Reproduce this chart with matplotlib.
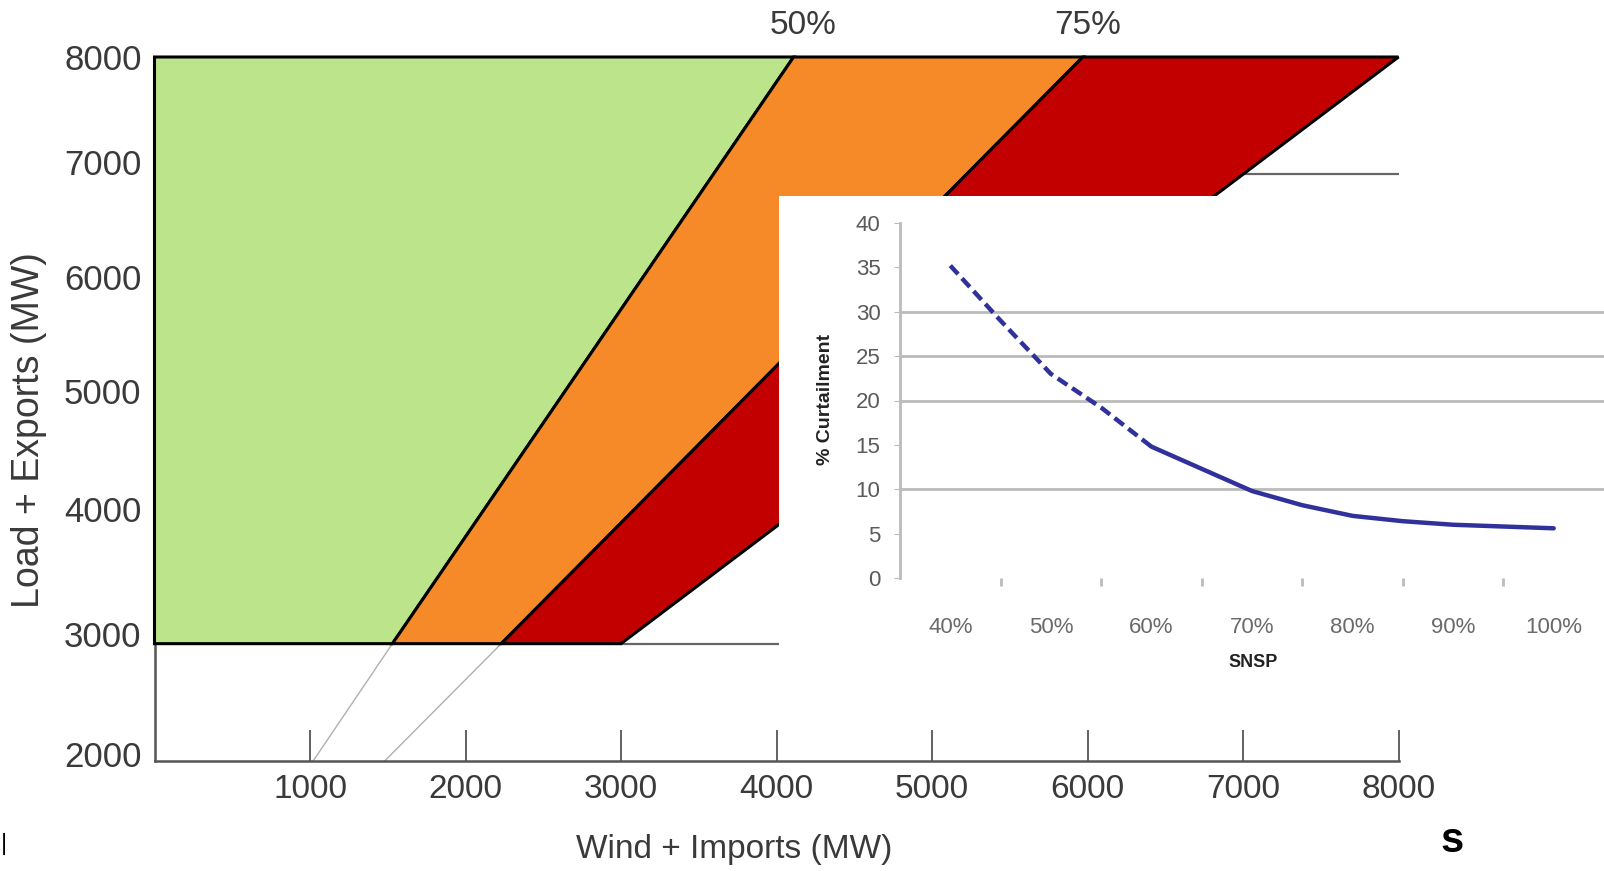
import matplotlib
matplotlib.use("Agg")
import matplotlib.pyplot as plt
from matplotlib.transforms import blended_transform_factory, ScaledTranslation

# main chart data (MW)
y_base = 3000
y_top = 8000
y_low = 2000
line50_x = [1530, 4110]      # x at y_base, y_top
line75_x = [2230, 5970]
right_x = [3000, 8000]
ext50_low = 1020             # grey extension down to y_low
ext75_low = 1480
x_ticks = [1000, 2000, 3000, 4000, 5000, 6000, 7000, 8000]
y_ticks = [2000, 3000, 4000, 5000, 6000, 7000, 8000]
ref_7000 = 7000

# inset data (SNSP position, % curtailment), read at half steps too
snsp = ['40%', '50%', '60%', '70%', '80%', '90%', '100%']
curve_pos = [0, 0.5, 1, 1.5, 2, 2.5, 3, 3.5, 4, 4.5, 5, 5.5, 6]
curve_val = [35.2, 29.0, 23.0, 19.2, 14.8, 12.3, 9.8, 8.2, 7.0, 6.4, 6.0, 5.8, 5.6]
dashed_n = 5                 # first points drawn dashed
grid_levels = [10, 20, 25, 30]

font = 'Liberation Sans'
txt = '#3a3a3a'
green = '#BBE48B'
orange = '#F68A29'
red = '#C20000'

fig = plt.figure(figsize=(16.04, 8.71), dpi=100)
W, H = 1604.0, 871.0

ax = fig.add_axes([154.5 / W, 1 - 761 / H, 1244 / W, 704 / H])
ax.set_xlim(0, 8000)
ax.set_ylim(y_low, y_top)

ax.fill([0, line50_x[0], line50_x[1], 0], [y_base, y_base, y_top, y_top],
        facecolor=green, edgecolor='black', lw=2.2, clip_on=False, zorder=3)
ax.fill([line50_x[0], line75_x[0], line75_x[1], line50_x[1]], [y_base, y_base, y_top, y_top],
        facecolor=orange, edgecolor='black', lw=2.2, clip_on=False, zorder=3)
ax.fill([line75_x[0], right_x[0], right_x[1], line75_x[1]], [y_base, y_base, y_top, y_top],
        facecolor=red, edgecolor='black', lw=2.2, clip_on=False, zorder=3)

ax.plot([ext50_low, line50_x[0]], [y_low, y_base], color='#b0b0b0', lw=1, zorder=2)
ax.plot([ext75_low, line75_x[0]], [y_low, y_base], color='#b0b0b0', lw=1, zorder=2)
ax.plot([right_x[0], 8000], [y_base, y_base], color='#666666', lw=1.6, zorder=2)
ax.plot([ref_7000, 8000], [ref_7000, ref_7000], color='#666666', lw=1.6, zorder=2)

ax.text(line50_x[1] + 60, 8270, '50%', ha='center', va='center', fontsize=24,
        family=font, color=txt)
ax.text(line75_x[1] + 30, 8270, '75%', ha='center', va='center', fontsize=24,
        family=font, color=txt)

for s in ['top', 'right']:
    ax.spines[s].set_visible(False)
for s in ['left', 'bottom']:
    ax.spines[s].set_color('#555555')
    ax.spines[s].set_linewidth(1.8)
ax.set_xticks(x_ticks)
ax.set_yticks(y_ticks)
ax.set_yticklabels([])
ax.tick_params(axis='x', direction='in', length=22, width=1.3, color='#555555', pad=9,
               labelsize=24, labelcolor=txt)
ax.tick_params(axis='y', length=0)
for lab in ax.get_xticklabels():
    lab.set_family(font)
ax.set_facecolor('none')

# y tick labels sit slightly above their gridline in the original
y_lab_shift = [4, 6, 14, 15, 11, 9, -3]
bt = blended_transform_factory(ax.transAxes, ax.transData)
for v, sh in zip(y_ticks, y_lab_shift):
    ax.text(-13 / 1244, v, str(v), ha='right', va='center', fontsize=25, family=font, color=txt,
            transform=bt + ScaledTranslation(0, sh / 100, fig.dpi_scale_trans))

fig.text(734 / W, 1 - 849 / H, 'Wind + Imports (MW)', ha='center', va='center',
         fontsize=24, family=font, color=txt)
fig.text(29 / W, 1 - 430 / H, 'Load + Exports (MW)', ha='center', va='center',
         fontsize=27, family=font, color=txt, rotation=90)

# white panel behind inset
bg = fig.add_axes([779 / W, 1 - 700 / H, 1 - 779 / W, 504 / H])
bg.set_facecolor('white')
bg.set_xticks([])
bg.set_yticks([])
for s in bg.spines.values():
    s.set_visible(False)

inax = fig.add_axes([900 / W, 1 - 578 / H, 704 / W, 355 / H])
inax.set_facecolor('none')
pos = list(range(len(snsp)))
inax.set_xlim(-0.5, 6.5)
inax.set_ylim(0, 40)
for g in grid_levels:
    inax.axhline(g, color='#bbbbbb', lw=2, zorder=1)
inax.plot(curve_pos[:dashed_n], curve_val[:dashed_n], color='#31319c', lw=3.2,
          ls=(0, (2.6, 1.3)), zorder=3)
inax.plot(curve_pos[dashed_n - 1:], curve_val[dashed_n - 1:], color='#31319c', lw=3.2,
          solid_capstyle='round', zorder=3)
for s in ['top', 'right', 'bottom']:
    inax.spines[s].set_visible(False)
inax.spines['left'].set_color('#bbbbbb')
inax.spines['left'].set_linewidth(2)
inax.set_yticks(range(0, 41, 5))
inax.set_xticks(pos)
inax.set_xticklabels(snsp)
inax.set_xticks([p + 0.5 for p in pos[:-1]], minor=True)
inax.tick_params(axis='y', length=4, color='#bbbbbb', pad=10, labelsize=16, labelcolor='#5a5a5a')
inax.tick_params(axis='x', which='major', length=0, pad=28, labelsize=16, labelcolor='#6a6a6a')
inax.tick_params(axis='x', which='minor', length=6, width=2, color='#bbbbbb')
for lab in inax.get_xticklabels() + inax.get_yticklabels():
    lab.set_family(font)

fig.text(826 / W, 1 - 399 / H, '% Curtailment', ha='center', va='center', rotation=90,
         fontsize=14, fontweight='bold', family=font, color='#222222')
fig.text(1253 / W, 1 - 662 / H, 'SNSP', ha='center', va='center',
         fontsize=13, fontweight='bold', family=font, color='#222222')

fig.text(1452 / W, 1 - 841 / H, 's', ha='center', va='center', fontsize=30,
         fontweight='bold', family=font, color='black')
fig.text(0.0006, 1 - 844 / H, '|', ha='left', va='center', fontsize=17, family=font,
         color='black')

fig.savefig('out.png', dpi=100)
